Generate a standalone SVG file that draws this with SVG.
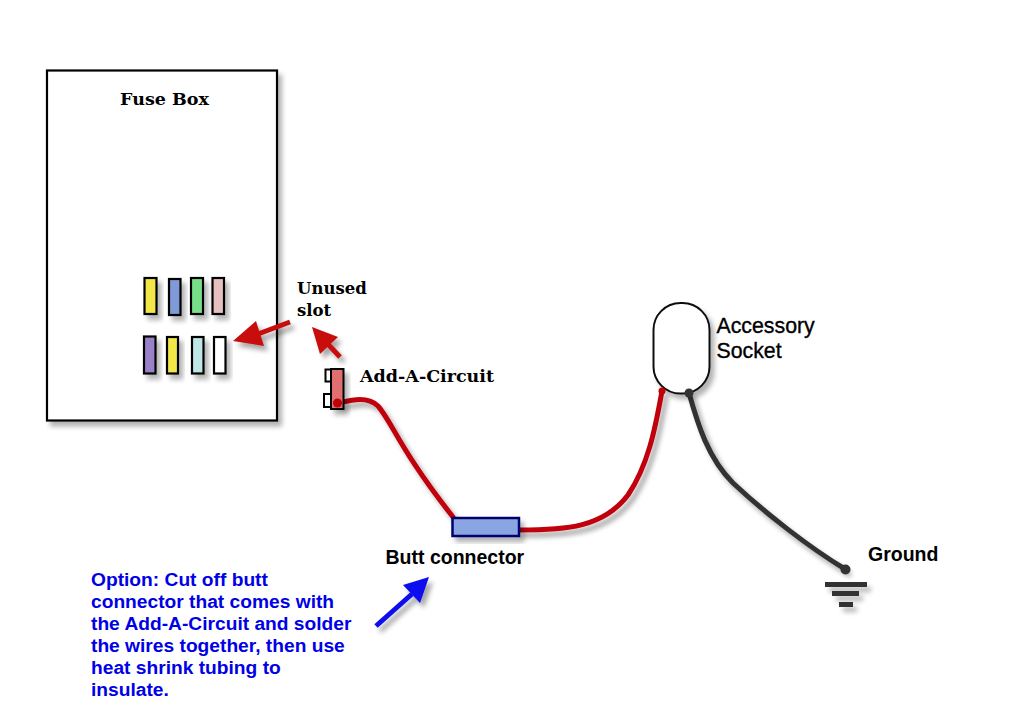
<svg xmlns="http://www.w3.org/2000/svg" width="1034" height="717" viewBox="0 0 1034 717">
<defs>
<filter id="sh" x="-60%" y="-30%" width="220%" height="170%"><feGaussianBlur in="SourceAlpha" stdDeviation="2.500"/><feOffset dx="4" dy="5"/><feComponentTransfer><feFuncA type="linear" slope="0.3"/></feComponentTransfer><feMerge><feMergeNode/><feMergeNode in="SourceGraphic"/></feMerge></filter>
<filter id="lsh" filterUnits="userSpaceOnUse" x="0" y="0" width="1034" height="717"><feGaussianBlur in="SourceAlpha" stdDeviation="2.500"/><feOffset dx="4" dy="5"/><feComponentTransfer><feFuncA type="linear" slope="0.35"/></feComponentTransfer><feMerge><feMergeNode/><feMergeNode in="SourceGraphic"/></feMerge></filter>
</defs>
<style>
.serif{font-family:"DejaVu Serif","Liberation Serif",serif;font-weight:700;font-size:17.5px;fill:#000}
.sans{font-family:"Liberation Sans",Arial,sans-serif;font-size:21.3px;fill:#000;stroke:#000;stroke-width:.35}
.bold{font-weight:700;font-size:19.5px;stroke:none}
.blue{font-family:"Liberation Sans",Arial,sans-serif;font-weight:700;font-size:19.2px;fill:#0000e6}
.fuse{stroke:#000;stroke-width:2.2;filter:url(#sh)}
.wire{fill:none;stroke-linecap:round;stroke-width:5}
.red{stroke:#c00008}
.dark{stroke:#333}
</style>
<rect width="1034" height="717" fill="#fff"/>
<g id="fuse-box"><rect x="47" y="70.500" width="230" height="350" fill="#fff" stroke="#000" stroke-width="2.200" filter="url(#sh)"/><text class="serif" x="164.500" y="104.500" text-anchor="middle">Fuse Box</text></g>
<g id="fuses">
<rect class="fuse" x="144.500" y="278" width="12" height="36" fill="#f2e64a"/>
<rect class="fuse" x="169" y="279" width="11.500" height="36" fill="#7f9ad6"/>
<rect class="fuse" x="191" y="278" width="12" height="36" fill="#78e088"/>
<rect class="fuse" x="212.500" y="278" width="11.500" height="36" fill="#e6c0c0"/>
<rect class="fuse" x="144" y="336.500" width="11.500" height="37" fill="#9a80c8"/>
<rect class="fuse" x="167" y="337" width="11" height="36.500" fill="#f2e64a"/>
<rect class="fuse" x="192" y="337" width="11.500" height="36.500" fill="#bfe6e6"/>
<rect class="fuse" x="214" y="337" width="11.500" height="36.500" fill="#fff"/>
</g>
<g id="connectors">
<path class="wire dark" filter="url(#lsh)" d="M689 393C698 425 708 458 733 483C765 513 810 548 845 569"/>
<path class="wire red" filter="url(#lsh)" d="M339 403C352 400 367 396 378 406C392 422 400 450 453 517"/>
<path class="wire red" filter="url(#lsh)" d="M519 530C565 530 603 528 628 495C648 465 655 430 662 391"/>
<g filter="url(#lsh)" fill="#c80a10" stroke="#c80a10">
<path d="M290 322L258 334" stroke-width="5"/><path d="M233 341L256 321L264 346Z" stroke="none"/>
<path d="M340 357L325 341" stroke-width="5"/><path d="M312 327L338 337L320 354Z" stroke="none"/>
</g>
<g filter="url(#lsh)" fill="#0a0af0" stroke="#0a0af0">
<path d="M376 626L412 594" stroke-width="5"/><path d="M429 577L420 603L403 585Z" stroke="none"/>
</g>
</g>
<g id="add-a-circuit">
<rect x="325.500" y="369.500" width="7" height="12" fill="#fff" stroke="#000" stroke-width="2"/>
<rect x="324" y="394" width="7" height="13" fill="#fff" stroke="#000" stroke-width="2"/>
<rect x="331" y="369" width="12.500" height="40" fill="#e07070" stroke="#000" stroke-width="2" filter="url(#sh)"/>
<circle cx="337.500" cy="403" r="4.500" fill="#c00008"/>
<text class="serif" x="360" y="381.500">Add-A-Circuit</text>
</g>
<g id="unused-slot"><text class="serif" style="font-size:16.500px" x="297" y="294">Unused</text><text class="serif" style="font-size:16.500px" x="297" y="316">slot</text></g>
<g id="accessory-socket">
<rect x="653.500" y="303" width="56" height="90.500" rx="27" ry="27" fill="#fff" stroke="#111" stroke-width="2" filter="url(#sh)"/>
<circle cx="662" cy="391" r="3.500" fill="#c00008"/><circle cx="689" cy="393" r="4.500" fill="#333"/>
<text class="sans" x="716.500" y="332.500">Accessory</text><text class="sans" x="716.500" y="357.500">Socket</text>
</g>
<g id="butt-connector">
<rect x="452.500" y="518" width="66.500" height="18" fill="#8aa6e2" stroke="#00006e" stroke-width="2.500" filter="url(#sh)"/>
<text class="sans bold" x="385.500" y="564">Butt connector</text>
</g>
<g id="ground">
<circle cx="845.500" cy="569.500" r="5" fill="#333"/>
<g fill="#333" filter="url(#sh)"><rect x="825" y="582" width="42" height="5"/><rect x="832" y="591" width="27" height="5"/><rect x="839" y="602" width="14" height="5"/></g>
<text class="sans bold" x="868" y="560.500">Ground</text>
</g>
<g id="option-note">
<text class="blue" x="91" y="586">Option: Cut off butt</text>
<text class="blue" x="91" y="608">connector that comes with</text>
<text class="blue" x="91" y="630">the Add-A-Circuit and solder</text>
<text class="blue" x="91" y="652">the wires together, then use</text>
<text class="blue" x="91" y="674">heat shrink tubing to</text>
<text class="blue" x="91" y="696">insulate.</text>
</g>
</svg>
